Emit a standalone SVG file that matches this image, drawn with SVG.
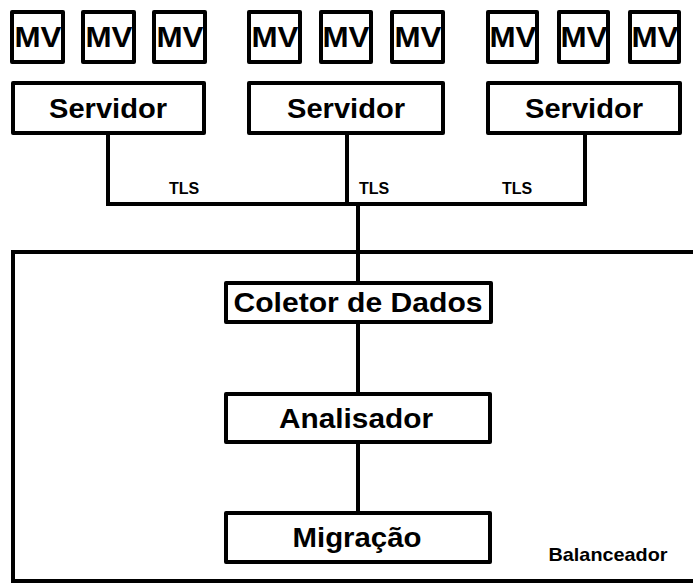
<svg xmlns="http://www.w3.org/2000/svg" width="693" height="583" viewBox="0 0 693 583">
<style>
.box{fill:#fff;stroke:#000;stroke-width:4;stroke-linejoin:round}
.ln{fill:none;stroke:#000;stroke-width:4;stroke-linecap:square}
.t{font-family:"Liberation Sans",Arial,sans-serif;font-weight:bold;fill:#000;text-anchor:middle}
.mv{font-size:29px}
.big{font-size:28px}
.sm{font-size:16px}
</style>
<rect width="693" height="583" fill="#fff"/>
<g id="balanceador">
<path class="ln" d="M700 252 H13 V581 H700" style="stroke-linecap:butt"/>
<text class="t" x="608" y="561" font-size="19" textLength="119" lengthAdjust="spacingAndGlyphs">Balanceador</text>
</g>
<g id="connectors">
<path class="ln" d="M108 133 V204 H585 V133"/>
<path class="ln" d="M347 133 V204"/>
<path class="ln" d="M358 204 V283"/>
<path class="ln" d="M358 322 V394"/>
<path class="ln" d="M358 442 V513"/>
<text class="t sm" x="184" y="194">TLS</text>
<text class="t sm" x="374" y="194">TLS</text>
<text class="t sm" x="517" y="194">TLS</text>
</g>
<g id="mv1"><rect class="box" x="12" y="12" width="51" height="50"/><text class="t mv" x="38" y="47" textLength="47" lengthAdjust="spacingAndGlyphs">MV</text></g>
<g id="mv2"><rect class="box" x="83" y="12" width="51" height="50"/><text class="t mv" x="109" y="47" textLength="47" lengthAdjust="spacingAndGlyphs">MV</text></g>
<g id="mv3"><rect class="box" x="154" y="12" width="51" height="50"/><text class="t mv" x="180" y="47" textLength="47" lengthAdjust="spacingAndGlyphs">MV</text></g>
<g id="mv4"><rect class="box" x="249" y="12" width="51" height="50"/><text class="t mv" x="275" y="47" textLength="47" lengthAdjust="spacingAndGlyphs">MV</text></g>
<g id="mv5"><rect class="box" x="321" y="12" width="50" height="50"/><text class="t mv" x="346" y="47" textLength="47" lengthAdjust="spacingAndGlyphs">MV</text></g>
<g id="mv6"><rect class="box" x="392" y="12" width="51" height="50"/><text class="t mv" x="418" y="47" textLength="47" lengthAdjust="spacingAndGlyphs">MV</text></g>
<g id="mv7"><rect class="box" x="488" y="12" width="49" height="50"/><text class="t mv" x="513" y="47" textLength="47" lengthAdjust="spacingAndGlyphs">MV</text></g>
<g id="mv8"><rect class="box" x="559" y="12" width="49" height="50"/><text class="t mv" x="584" y="47" textLength="47" lengthAdjust="spacingAndGlyphs">MV</text></g>
<g id="mv9"><rect class="box" x="630" y="12" width="49" height="50"/><text class="t mv" x="655" y="47" textLength="47" lengthAdjust="spacingAndGlyphs">MV</text></g>
<g id="servidor1"><rect class="box" x="13" y="83" width="191" height="50"/><text class="t big" x="108" y="118" textLength="118" lengthAdjust="spacingAndGlyphs">Servidor</text></g>
<g id="servidor2"><rect class="box" x="249" y="83" width="194" height="50"/><text class="t big" x="346" y="118" textLength="118" lengthAdjust="spacingAndGlyphs">Servidor</text></g>
<g id="servidor3"><rect class="box" x="488" y="83" width="192" height="50"/><text class="t big" x="584" y="118" textLength="118" lengthAdjust="spacingAndGlyphs">Servidor</text></g>
<g id="coletor"><rect class="box" x="226" y="283" width="265" height="39"/><text class="t big" x="358" y="312" textLength="249" lengthAdjust="spacingAndGlyphs">Coletor de Dados</text></g>
<g id="analisador"><rect class="box" x="226" y="394" width="264" height="48"/><text class="t big" x="356" y="428" textLength="154" lengthAdjust="spacingAndGlyphs">Analisador</text></g>
<g id="migracao"><rect class="box" x="226" y="513" width="264" height="49"/><text class="t big" x="357" y="547" textLength="129" lengthAdjust="spacingAndGlyphs">Migração</text></g>
</svg>
